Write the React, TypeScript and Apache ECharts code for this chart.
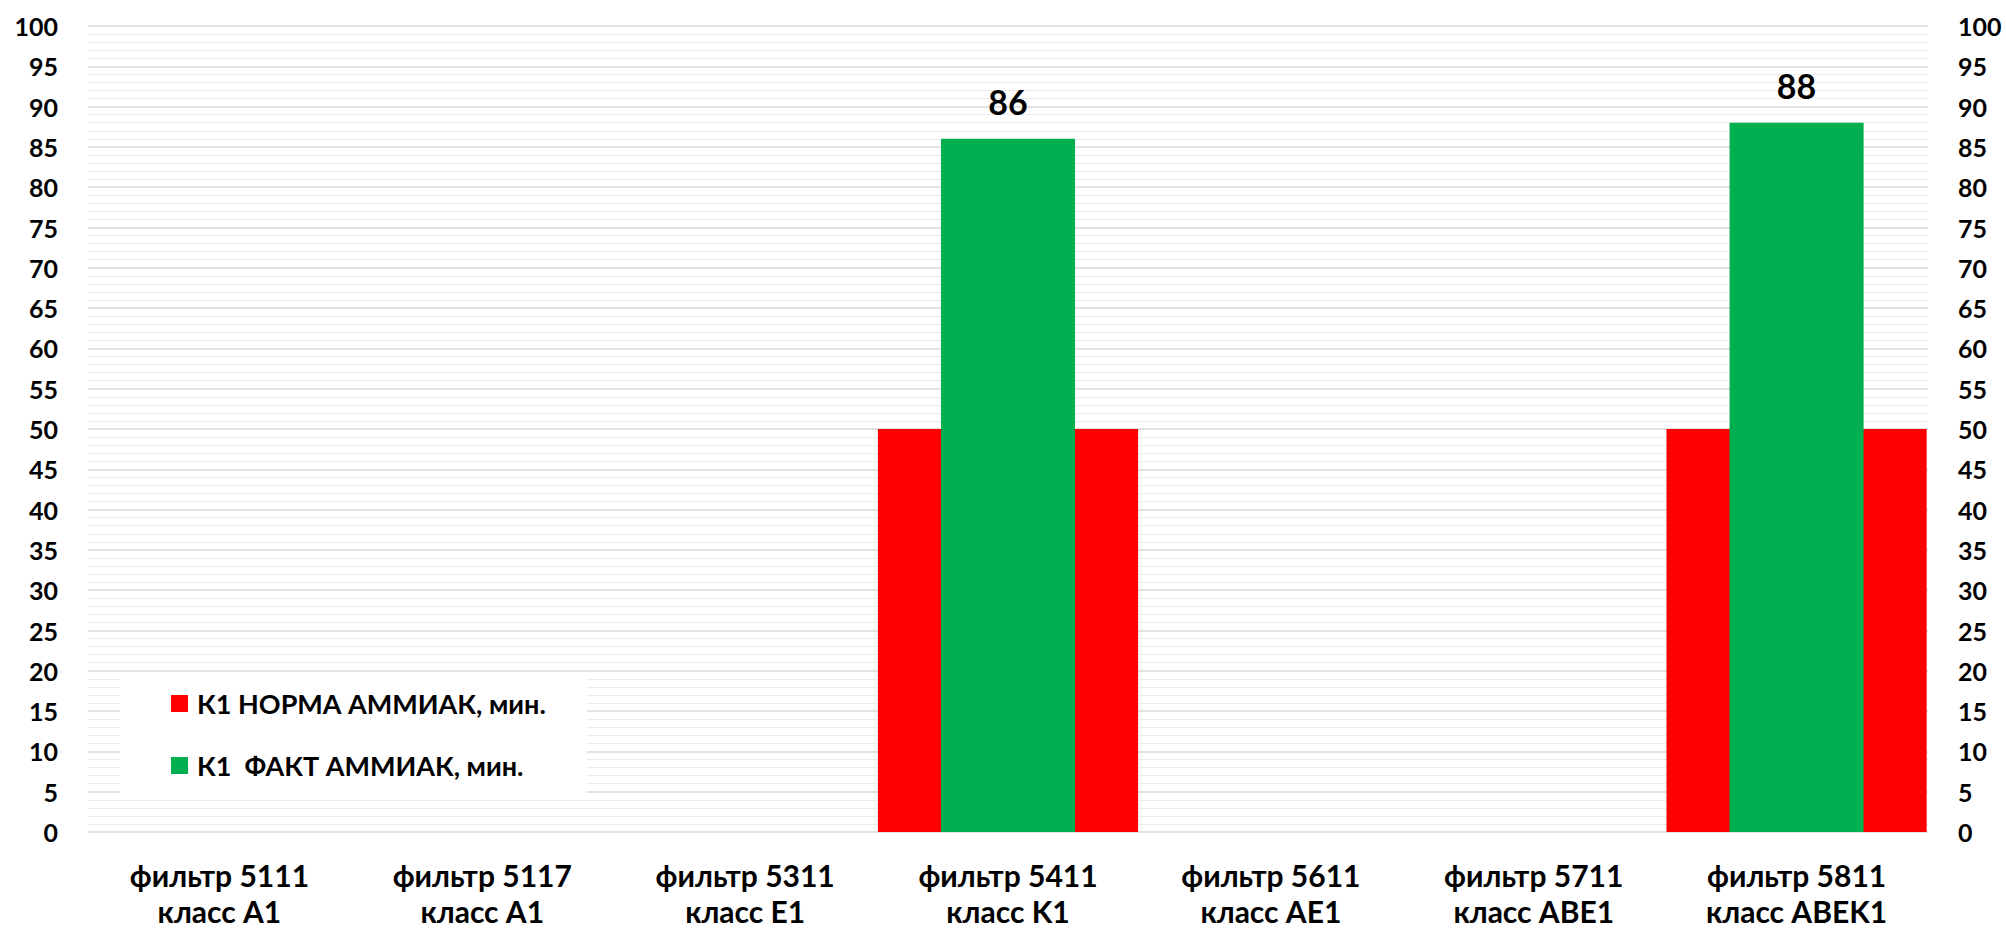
import React, { useEffect, useRef } from "react";
import * as echarts from "echarts";

// Filter categories (two-line labels)
const categories: string[] = [
  "фильтр 5111\nкласс A1",
  "фильтр 5117\nкласс A1",
  "фильтр 5311\nкласс E1",
  "фильтр 5411\nкласс K1",
  "фильтр 5611\nкласс AE1",
  "фильтр 5711\nкласс ABE1",
  "фильтр 5811\nкласс ABEK1",
];

// Norm and actual values (minutes); null where no measurement
const normValues: (number | null)[] = [null, null, null, 50, null, null, 50];
const factValues: (number | null)[] = [null, null, null, 86, null, null, 88];

const seriesNames: string[] = ["К1 НОРМА АММИАК, мин.", "К1  ФАКТ АММИАК, мин."];

const FONT = "Lato, 'Open Sans', sans-serif";

export default function App() {
  const ref = useRef<HTMLDivElement>(null);

  useEffect(() => {
    if (!ref.current) return;
    const chart = echarts.init(ref.current, undefined, { renderer: "svg" });

    const valueAxisBase = {
      type: "value" as const,
      min: 0,
      max: 100,
      interval: 5,
      axisLine: { show: false },
      axisTick: { show: false },
      axisLabel: {
        color: "#000",
        fontSize: 25,
        fontWeight: "bold" as const,
        fontFamily: FONT,
        margin: 30,
      },
    };

    chart.setOption({
      animation: false,
      backgroundColor: "#fff",
      textStyle: { fontFamily: FONT },
      grid: {
        left: 88,
        right: 78,
        top: 26,
        bottom: 97,
        containLabel: false,
        outerBoundsMode: "none",
      },
      legend: {
        orient: "vertical",
        left: 120,
        top: 672,
        backgroundColor: "#fff",
        padding: [18, 41, 14, 51],
        itemWidth: 17,
        itemHeight: 17,
        itemGap: 35,
        icon: "rect",
        data: seriesNames,
        textStyle: {
          color: "#000",
          fontSize: 27,
          fontWeight: "bold",
          fontFamily: FONT,
          padding: [0, 0, 0, 4],
        },
      },
      xAxis: [
        {
          type: "category",
          data: categories,
          axisLine: { show: false },
          axisTick: { show: false },
          axisLabel: {
            color: "#000",
            fontSize: 30,
            fontWeight: "bold",
            fontFamily: FONT,
            lineHeight: 36,
            margin: 25,
            interval: 0,
          },
        },
        {
          type: "category",
          data: categories,
          show: false,
        },
      ],
      yAxis: [
        {
          ...valueAxisBase,
          position: "left",
          splitLine: { show: true, lineStyle: { color: "#d9d9d9", width: 1.5 } },
          minorTick: { show: false, splitNumber: 5 },
          minorSplitLine: { show: true, lineStyle: { color: "#ececec", width: 1 } },
        },
        {
          ...valueAxisBase,
          position: "right",
          splitLine: { show: false },
        },
      ],
      series: [
        {
          name: seriesNames[0],
          type: "bar",
          xAxisIndex: 0,
          yAxisIndex: 0,
          data: normValues,
          barWidth: "99%",
          itemStyle: { color: "#ff0000" },
        },
        {
          name: seriesNames[1],
          type: "bar",
          xAxisIndex: 1,
          yAxisIndex: 0,
          data: factValues,
          barWidth: "51%",
          itemStyle: { color: "#00b050" },
          label: {
            show: true,
            position: "top",
            distance: 20,
            color: "#000",
            fontSize: 34,
            fontWeight: "bold",
            fontFamily: FONT,
          },
        },
      ],
    });

    return () => chart.dispose();
  }, []);

  return (
    <div
      ref={ref}
      style={{ position: "fixed", left: 0, top: 0, width: 2006, height: 929 }}
    />
  );
}
